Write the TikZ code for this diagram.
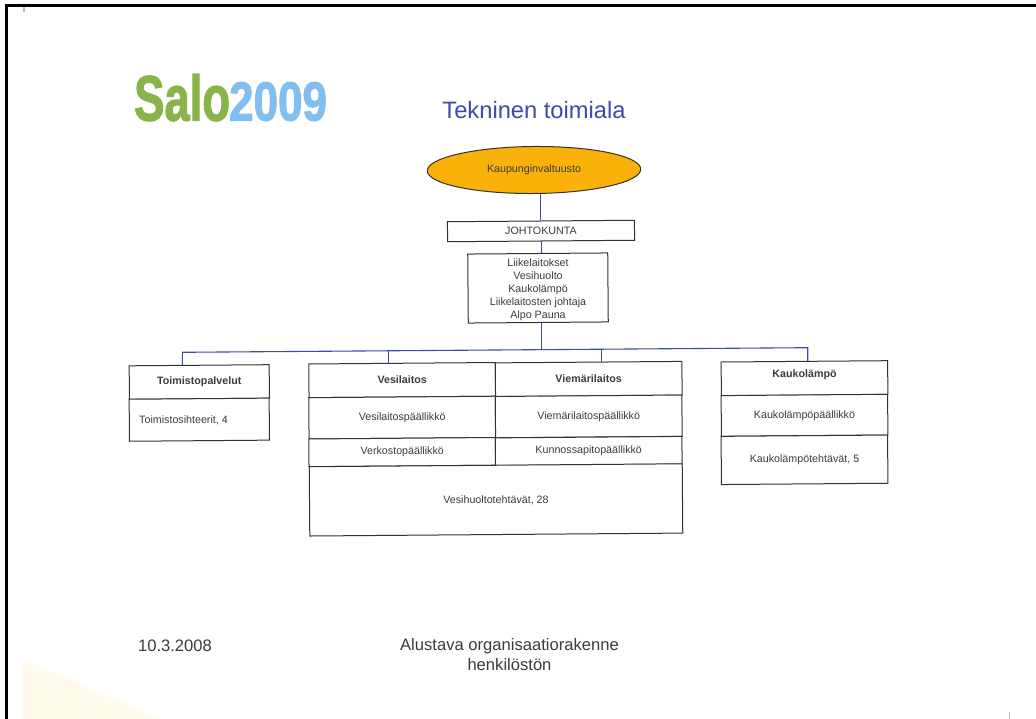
\documentclass[tikz,border=0pt]{standalone}
\usepackage{fontspec}
\setmainfont{Liberation Sans}
\newfontfamily\logofont[BoldFeatures={FakeBold=2}]{Liberation Sans}
\usetikzlibrary{shapes.geometric}
\definecolor{linkblue}{RGB}{62,74,172}
\definecolor{inktext}{RGB}{60,60,60}
\definecolor{boxline}{RGB}{50,50,50}
\definecolor{salogreen}{RGB}{136,180,74}
\definecolor{saloblue}{RGB}{130,190,240}
\definecolor{councilfill}{RGB}{250,178,10}
\definecolor{paperfold}{RGB}{254,250,236}
\definecolor{scanmark}{RGB}{170,195,220}
\tikzset{
  orgbox/.style={draw=boxline,line width=1pt,fill=white,inner sep=0pt,rotate=0.45},
  boxlabel/.style={text=inktext,inner sep=0pt,align=center,font=\fontsize{10.7}{13}\selectfont},
  headlabel/.style={boxlabel,font=\fontsize{10.7}{13}\selectfont\bfseries},
  link/.style={draw=linkblue,line width=1.1pt},
  footer/.style={text=inktext,font=\fontsize{16.6}{19.5}\selectfont,align=center}
}
\begin{document}
\begin{tikzpicture}[x=1pt,y=-1pt]
  \useasboundingbox (0,0) rectangle (1036,719);
  \fill[white] (0,0) rectangle (1036,719);
  \fill[paperfold] (23,659) -- (160,719) -- (23,719) -- cycle;
  \draw[black,line width=2.8pt] (6.5,719) -- (6.5,5.5) -- (1036,5.5);
  \fill[scanmark] (23,7) rectangle (24.5,12);
  \fill[scanmark] (1008.5,712) rectangle (1010,719);
  % logo
  \node[salogreen,font=\fontsize{64}{64}\logofont\bfseries,anchor=base west,inner sep=0pt,xscale=0.71] (logo) at (134,120.5) {Salo};
  \node[saloblue,font=\fontsize{55}{55}\logofont\bfseries,anchor=base west,inner sep=0pt,xscale=0.8] (year) at (229,120.5) {2009};
  \node[linkblue,font=\fontsize{23.7}{26}\selectfont] (title) at (534,110) {Tekninen toimiala};
  % top of the tree
  \node[orgbox,ellipse,fill=councilfill,minimum width=213.5pt,minimum height=47pt,label={[boxlabel]center:Kaupunginvaltuusto}] (council) at (534,170) {};
  \node[orgbox,minimum width=187pt,minimum height=20pt,label={[boxlabel]center:JOHTOKUNTA}] (board) at (541,231) {};
  \node[orgbox,minimum width=140pt,minimum height=69pt,label={[boxlabel,yshift=-1.5pt]center:Liikelaitokset\\Vesihuolto\\Kaukolämpö\\Liikelaitosten johtaja\\Alpo Pauna}] (head) at (538,288) {};
  \draw[link] (council.south -| board.north) -- (board.north);
  \draw[link] (board.south) -- (head.north -| board.south);
  % departments
  \node[orgbox,minimum width=140pt,minimum height=33.5pt,label={[headlabel]center:Toimistopalvelut}] (office) at (199.3,382) {};
  \node[orgbox,minimum width=140pt,minimum height=42pt] (secretary) at (199.3,419.7) {};
  \node[boxlabel,anchor=west] (secretarytext) at (139,420.7) {Toimistosihteerit, 4};
  \node[orgbox,minimum width=186.6pt,minimum height=33.7pt,label={[headlabel]center:Vesilaitos}] (water) at (402.2,380.1) {};
  \node[orgbox,minimum width=186.6pt,minimum height=33.7pt,label={[headlabel]center:Viemärilaitos}] (sewer) at (588.7,379) {};
  \node[orgbox,minimum width=186.6pt,minimum height=41.3pt,label={[boxlabel]center:Vesilaitospäällikkö}] (watermgr) at (402.2,417.6) {};
  \node[orgbox,minimum width=186.6pt,minimum height=41.3pt,label={[boxlabel]center:Viemärilaitospäällikkö}] (sewermgr) at (588.7,416.4) {};
  \node[orgbox,minimum width=186.6pt,minimum height=27.7pt,label={[boxlabel]center:Verkostopäällikkö}] (network) at (402.2,452.1) {};
  \node[orgbox,minimum width=186.6pt,minimum height=27.7pt,label={[boxlabel]center:Kunnossapitopäällikkö}] (maint) at (588.7,451) {};
  \node[orgbox,minimum width=373pt,minimum height=69.3pt,label={[boxlabel]center:{Vesihuoltotehtävät, 28}}] (tasks) at (496,499.9) {};
  \node[orgbox,minimum width=166.5pt,minimum height=33.7pt,label={[headlabel,yshift=3pt]center:Kaukolämpö}] (heat) at (804.5,378.2) {};
  \node[orgbox,minimum width=166.5pt,minimum height=40.7pt,label={[boxlabel]center:Kaukolämpöpäällikkö}] (heatmgr) at (804.5,415.3) {};
  \node[orgbox,minimum width=166.5pt,minimum height=48.2pt,label={[boxlabel]center:{Kaukolämpötehtävät, 5}}] (heattasks) at (804.5,459.8) {};
  % connectors
  \coordinate (busl) at (182.3,352.3);
  \coordinate (busr) at (807.7,347.7);
  \coordinate (busc) at (541.5,349.7);
  \coordinate (busw) at (388.3,350.8);
  \coordinate (buss) at (601.7,349);
  \draw[link] (head.south -| busc) -- (busc);
  \draw[link] (office.north -| busl) -- (busl) -- (busr) -- (heat.north -| busr);
  \draw[link] (busw) -- (water.north -| busw);
  \draw[link] (buss) -- (sewer.north -| buss);
  % footer
  \node[footer] (date) at (175,646) {10.3.2008};
  \node[footer] (note) at (509.5,654.5) {Alustava organisaatiorakenne\\henkilöstön};
\end{tikzpicture}
\end{document}
